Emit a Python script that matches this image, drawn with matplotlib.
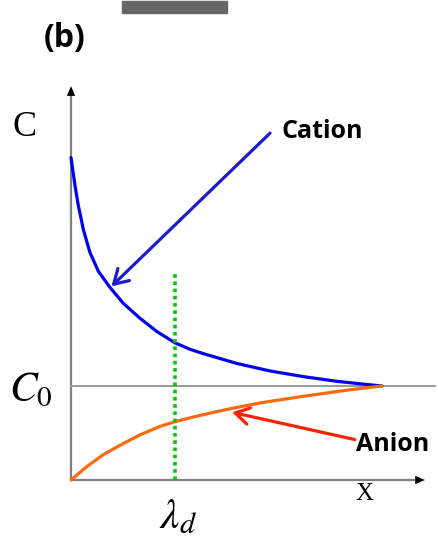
import matplotlib
matplotlib.use("Agg")
import matplotlib.pyplot as plt

# concentration profiles (x in units of the decay end, y in units of C0)
cation_x = [0, 0.013, 0.023, 0.040, 0.061, 0.088, 0.125, 0.168, 0.222, 0.276, 0.334,
            0.383, 0.425, 0.533, 0.640, 0.747, 0.854, 0.940, 1.0]
cation_y = [3.43, 3.13, 2.93, 2.66, 2.42, 2.22, 2.05, 1.88, 1.72, 1.58, 1.46,
            1.39, 1.345, 1.24, 1.16, 1.10, 1.05, 1.02, 1.0]
anion_x = [0, 0.050, 0.104, 0.158, 0.222, 0.286, 0.334, 0.393, 0.458, 0.522, 0.608,
           0.736, 0.897, 1.0]
anion_y = [0, 0.14, 0.27, 0.37, 0.48, 0.57, 0.62, 0.67, 0.72, 0.765, 0.82,
           0.885, 0.96, 1.0]
c0 = 1.0
lambda_d = 0.334
lambda_top = 2.21

BLUE = "#0000f0"
ORANGE = "#ff6a10"
GREEN = "#00cc00"
GRAY = "#808080"

plt.rcParams["mathtext.fontset"] = "stix"

fig = plt.figure(figsize=(4.38, 5.38), dpi=100)
ax = fig.add_axes([0, 0, 1, 1])
ax.set_xlim(-71 / 311, 367 / 311)
ax.set_ylim(-58 / 94, 480 / 94)
ax.axis("off")

# axes with arrow heads
ax.plot([0, 0], [0, 4.10], color=GRAY, lw=1.6, solid_capstyle="butt")
ax.plot([0, 1.11], [0, 0], color=GRAY, lw=1.6, solid_capstyle="butt")
head = dict(arrowstyle="-|>,head_length=0.7,head_width=0.3", color="black", lw=0,
            shrinkA=0, shrinkB=0, mutation_scale=10)
ax.annotate("", xy=(0, 4.19), xytext=(0, 4.0), arrowprops=head)
ax.annotate("", xy=(1.138, 0), xytext=(1.08, 0), arrowprops=head)

# bulk concentration line
ax.plot([0, 1.17], [c0, c0], color="#999999", lw=1.4)

# profiles
ax.plot(cation_x, cation_y, color=BLUE, lw=2.3, solid_capstyle="round", solid_joinstyle="round")
ax.plot(anion_x, anion_y, color=ORANGE, lw=2.3, solid_capstyle="round", solid_joinstyle="round")

# debye length marker
ax.plot([lambda_d, lambda_d], [0, lambda_top], color=GREEN, lw=2.6, linestyle=(0, (1, 1)))

# pointer arrows
ax.annotate("", xy=(0.13, 2.06), xytext=(0.640, 3.69),
            arrowprops=dict(arrowstyle="->,head_length=0.5,head_width=0.3", color="#1c1ccc",
                            lw=2.3, shrinkA=0, shrinkB=0, mutation_scale=20))
ax.annotate("", xy=(0.518, 0.72), xytext=(0.913, 0.43),
            arrowprops=dict(arrowstyle="->,head_length=0.5,head_width=0.3", color="#ff2200",
                            lw=2.3, shrinkA=0, shrinkB=0, mutation_scale=20))

# labels
ax.text(0.677, 3.71, "Cation", fontsize=18, fontweight="bold", family="Open Sans",
        ha="left", va="center")
ax.text(0.918, 0.38, "Anion", fontsize=18, fontweight="bold", family="Open Sans",
        ha="left", va="center")
ax.text(-0.150, 3.75, "C", fontsize=26, family="Liberation Serif", ha="center", va="center")
ax.text(-0.13, 0.96, "$C_0$", fontsize=30, ha="center", va="center")
ax.text(lambda_d + 0.01, -0.39, r"$\lambda_d$", fontsize=31, ha="center", va="center")
ax.text(0.945, -0.15, "X", fontsize=18, family="Liberation Serif", ha="center", va="center")

fig.text(65 / 438, 1 - 38 / 538, "(b)", fontsize=23, fontweight="bold", family="Open Sans",
         ha="center", va="center")
fig.patches.append(plt.Rectangle((122 / 438, 1 - 12.5 / 538), 105 / 438, 11.5 / 538,
                                 transform=fig.transFigure, color="#666666"))

fig.savefig("out.png", dpi=100)
